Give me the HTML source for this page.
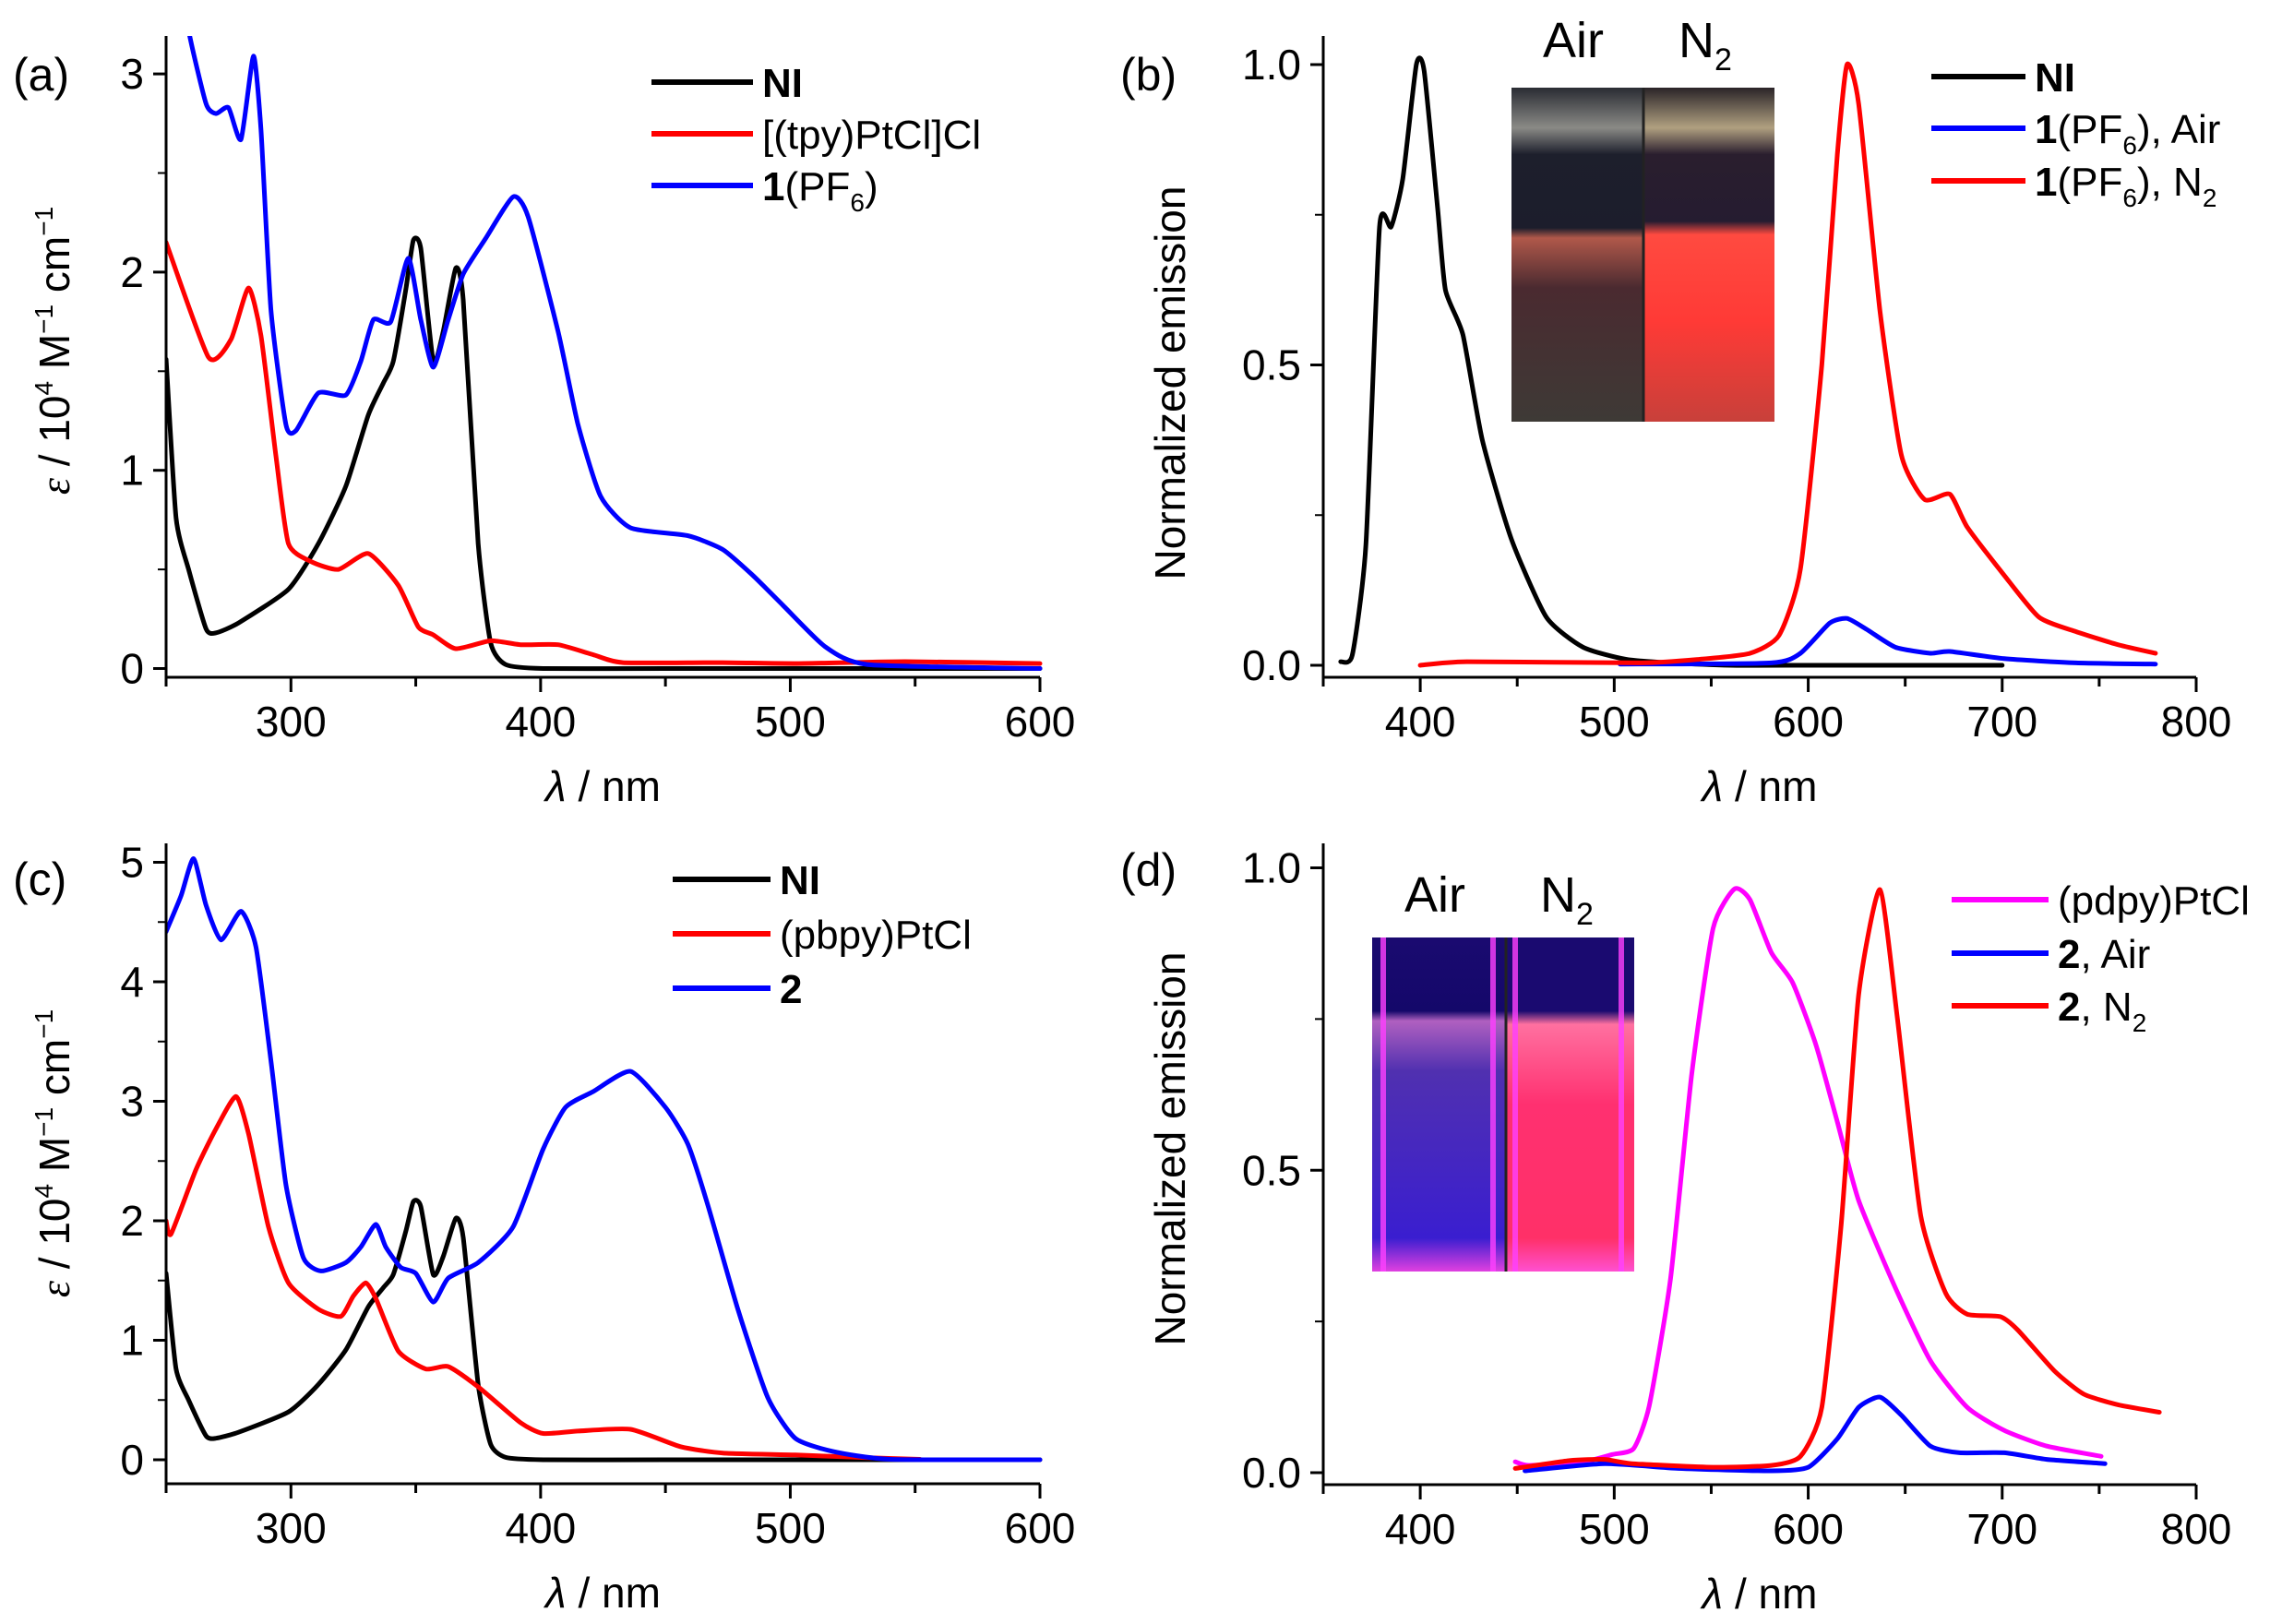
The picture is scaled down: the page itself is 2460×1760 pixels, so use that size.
<!DOCTYPE html>
<html><head><meta charset="utf-8"><style>
html,body{margin:0;padding:0;background:#fff}
svg{display:block;font-family:"Liberation Sans",Arial,sans-serif}
</style></head><body>
<svg id="fig" width="2460" height="1760" viewBox="0 0 2460 1760" xmlns="http://www.w3.org/2000/svg">
<defs>
<linearGradient id="gbAir" x1="0" y1="0" x2="0" y2="1"><stop offset="0" stop-color="#2a2c33"/><stop offset="0.12" stop-color="#8a8a86"/><stop offset="0.2" stop-color="#1d1f2c"/><stop offset="0.42" stop-color="#1c1d2c"/><stop offset="0.45" stop-color="#b0584a"/><stop offset="0.6" stop-color="#4a2a30"/><stop offset="1" stop-color="#3e3a36"/></linearGradient>
<linearGradient id="gbN2" x1="0" y1="0" x2="0" y2="1"><stop offset="0" stop-color="#2a2428"/><stop offset="0.12" stop-color="#b0a080"/><stop offset="0.2" stop-color="#2a1e2e"/><stop offset="0.4" stop-color="#251c30"/><stop offset="0.44" stop-color="#ff4a40"/><stop offset="0.7" stop-color="#ff3a36"/><stop offset="1" stop-color="#c8403a"/></linearGradient>
<linearGradient id="gdAir" x1="0" y1="0" x2="0" y2="1"><stop offset="0" stop-color="#1a0a70"/><stop offset="0.22" stop-color="#14086a"/><stop offset="0.25" stop-color="#b060c0"/><stop offset="0.4" stop-color="#5030b0"/><stop offset="0.9" stop-color="#3a1ed0"/><stop offset="1" stop-color="#e040e0"/></linearGradient>
<linearGradient id="gdN2" x1="0" y1="0" x2="0" y2="1"><stop offset="0" stop-color="#1a0a70"/><stop offset="0.22" stop-color="#1a0a70"/><stop offset="0.26" stop-color="#ff70a0"/><stop offset="0.5" stop-color="#ff3070"/><stop offset="0.9" stop-color="#ff3068"/><stop offset="1" stop-color="#ff50d0"/></linearGradient>
</defs>
<g id="root"></g>
</svg>
<script>
// ---------- data (wavelength nm, value) ----------
const niX=[250,254,259,266,270,279,299,311,322,331,337,341,346,349,352,357,361,366,369,375,380,386,401,450,500,550,600];
const niY=[1.56,0.76,0.5,0.2,0.18,0.23,0.40,0.63,0.92,1.28,1.44,1.55,1.91,2.16,2.12,1.55,1.7,2.02,1.86,0.63,0.13,0.02,0.0,0.0,0.0,0.0,0.0];
const tpyX=[250,267,276,283,288,294,299,308,319,331,343,351,357,366,380,392,407,421,433,473,502,546,600];
const tpyY=[2.15,1.57,1.66,1.92,1.68,1.07,0.63,0.54,0.50,0.58,0.42,0.21,0.17,0.1,0.14,0.12,0.12,0.07,0.03,0.03,0.025,0.035,0.025];
const c1X=[255,259,266,270,275,280,285,288,292,298,302,311,322,328,333,340,347,352,357,363,369,378,389,395,407,415,424,436,459,473,485,497,514,531,600];
const c1Y=[3.6,3.22,2.85,2.8,2.83,2.67,3.09,2.72,1.81,1.23,1.2,1.39,1.38,1.55,1.76,1.75,2.07,1.76,1.52,1.76,1.99,2.17,2.38,2.28,1.70,1.23,0.87,0.71,0.67,0.60,0.47,0.32,0.11,0.02,0.0];
const niEmX=[359,365,372,379,385,391,398,402,409,413,422,432,447,465,484,506,529,560,600,650,700];
const niEmY=[0.006,0.017,0.2,0.73,0.73,0.81,1.0,0.99,0.76,0.625,0.55,0.375,0.21,0.08,0.03,0.01,0.004,0.0,0.0,0.0,0.0];
const n2bX=[400,424,514,544,570,585,596,607,615,620,626,637,648,660,673,682,701,719,738,760,779];
const n2bY=[0.0,0.006,0.004,0.01,0.02,0.05,0.16,0.5,0.85,1.0,0.935,0.59,0.35,0.276,0.285,0.23,0.15,0.08,0.056,0.034,0.02];
const airbX=[503,581,596,611,620,630,645,663,673,701,738,779];
const airbY=[0.002,0.004,0.02,0.07,0.078,0.06,0.03,0.02,0.023,0.011,0.004,0.002];
const pbX=[250,252,262,270,278,283,291,299,311,320,325,330,334,343,354,363,375,392,401,415,436,456,473,502,531,552];
const pbY=[2.0,1.89,2.43,2.77,3.04,2.73,1.95,1.48,1.26,1.2,1.37,1.48,1.35,0.91,0.76,0.78,0.61,0.31,0.22,0.24,0.255,0.11,0.056,0.04,0.017,0.004];
const c2X=[250,256,261,266,272,280,286,292,298,305,312,322,328,334,338,344,350,357,363,375,389,401,410,421,436,450,459,467,479,491,502,517,540,600];
const c2Y=[4.42,4.72,5.03,4.64,4.35,4.59,4.29,3.34,2.3,1.69,1.58,1.65,1.78,1.97,1.78,1.61,1.56,1.32,1.52,1.65,1.95,2.6,2.95,3.08,3.25,2.95,2.64,2.13,1.26,0.52,0.18,0.07,0.004,0.0];
const pdX=[449,456,484,499,510,518,529,540,551,562,570,581,592,604,615,626,645,663,682,701,723,751];
const pdY=[0.018,0.012,0.018,0.03,0.04,0.11,0.32,0.66,0.9,0.965,0.947,0.86,0.81,0.707,0.58,0.45,0.305,0.185,0.108,0.07,0.044,0.027];
const n2dX=[449,477,495,509,551,581,596,607,617,626,637,646,658,671,682,699,708,727,742,760,781];
const n2dY=[0.007,0.02,0.022,0.015,0.009,0.012,0.027,0.108,0.41,0.79,0.964,0.75,0.425,0.296,0.262,0.258,0.236,0.168,0.13,0.112,0.1];
const airdX=[454,495,533,581,600,615,626,637,648,663,678,701,723,753];
const airdY=[0.003,0.015,0.007,0.003,0.009,0.056,0.108,0.125,0.095,0.044,0.033,0.033,0.022,0.015];
const absXTicks=[300,400,500,600];
const emXTicks=[400,500,600,700,800];
const aYTicks=[0,1,2,3];
const cYTicks=[0,1,2,3,4,5];
const emYTicks=["0.0","0.5","1.0"];

const NS="http://www.w3.org/2000/svg";
const root=document.getElementById('root');
function mk(tag,attrs,parent){const e=document.createElementNS(NS,tag);for(const k in attrs)e.setAttribute(k,attrs[k]);(parent||root).appendChild(e);return e;}
function smoothPath(P){
  let d='M'+P[0][0].toFixed(1)+','+P[0][1].toFixed(1);
  const t=0.3;
  for(let i=0;i<P.length-1;i++){
    const p0=P[Math.max(i-1,0)],p1=P[i],p2=P[i+1],p3=P[Math.min(i+2,P.length-1)];
    const c1=[p1[0]+(p2[0]-p0[0])*t/2*0.66,p1[1]+(p2[1]-p0[1])*t/2*0.66];
    const c2=[p2[0]-(p3[0]-p1[0])*t/2*0.66,p2[1]-(p3[1]-p1[1])*t/2*0.66];
    d+=` C${c1[0].toFixed(1)},${c1[1].toFixed(1)} ${c2[0].toFixed(1)},${c2[1].toFixed(1)} ${p2[0].toFixed(1)},${p2[1].toFixed(1)}`;
  }
  return d;
}

function panel(o){
  const g=mk('g',{});
  
  
  const sx=v=>o.x0+(v-o.xmin)/(o.xmax-o.xmin)*(o.x1-o.x0);
  const sy=v=>o.y0-(v-0)*o.ppu;
  const cid='clip'+o.name;
  const cp=mk('clipPath',{id:cid},g);mk('rect',{x:o.x0,y:o.top,width:o.x1-o.x0+4,height:o.axisY-o.top},cp);
  o.series.forEach(s=>{
    const P=s.x.map((v,i)=>[sx(v),sy(s.y[i])]);
    const p=mk('path',{d:smoothPath(P),fill:'none',stroke:s.color,'stroke-width':5,'stroke-linejoin':'round','stroke-linecap':'round','clip-path':'url(#'+cid+')'},g);
    
    
  });
  const ax=mk('path',{d:`M${o.x0},${o.top} V${o.axisY} H${o.x1}`,fill:'none',stroke:'#000','stroke-width':3},g);
  
  
  for(let v=o.xmin;v<=o.xmax+0.1;v+=50){
    const major=o.xticks.indexOf(v)>=0;
    mk('line',{x1:sx(v),x2:sx(v),y1:o.axisY,y2:o.axisY+(major?16:10),stroke:'#000','stroke-width':3},g);
  }
  o.xticks.forEach(v=>{
    const t=mk('text',{x:sx(v),y:o.axisY+64,'text-anchor':'middle','font-size':46},g);t.textContent=v;
    
    
  });
  o.yticks.forEach((lab,i)=>{
    const v=parseFloat(lab);
    mk('line',{x1:o.x0-14,x2:o.x0,y1:sy(v),y2:sy(v),stroke:'#000','stroke-width':3},g);
    if(i<o.yticks.length-1){const vm=v+o.ystep/2;mk('line',{x1:o.x0-9,x2:o.x0,y1:sy(vm),y2:sy(vm),stroke:'#000','stroke-width':2},g);}
    const t=mk('text',{x:o.x0-24,y:sy(v)+16,'text-anchor':'end','font-size':46},g);t.textContent=lab;
    
    
  });
  const xt=mk('text',{x:(o.x0+o.x1)/2,y:o.axisY+134,'text-anchor':'middle','font-size':46},g);
  xt.innerHTML='<tspan font-style="italic">λ</tspan> / nm';
  
  
  const yt=mk('text',{x:0,y:0,'text-anchor':'middle','font-size':46,transform:`translate(${o.ytx},${o.tyc}) rotate(-90)`},g);
  yt.innerHTML=o.ytitle;
  
  
  const pl=mk('text',{x:o.plx,y:o.ply,'font-size':50},g);pl.textContent=o.label;
  
  
  o.legend.forEach((L,i)=>{
    const y=o.ly[i];
    const ln=mk('line',{x1:o.lx0,x2:o.lx1,y1:y,y2:y,stroke:L.color,'stroke-width':6},g);
    
    
    const t=mk('text',{x:o.lx1+10,y:y+16,'font-size':44},g);t.innerHTML=L.html;
    
    
  });
  return g;
}
const epsTitle='<tspan font-family="Liberation Serif" font-style="italic">ε</tspan> / 10<tspan dy="-18" font-size="28">4</tspan><tspan dy="18"> M</tspan><tspan dy="-18" font-size="28">−1</tspan><tspan dy="18"> cm</tspan><tspan dy="-18" font-size="28">−1</tspan>';
const pf6='<tspan font-weight="bold">1</tspan>(PF<tspan dy="12" font-size="28">6</tspan><tspan dy="-12">)</tspan>';

panel({name:'panel-a',label:'(a)',x0:180,x1:1127,xmin:250,xmax:600,y0:724.5,ppu:214.8,axisY:734,top:39,ystep:1,
  xticks:absXTicks,yticks:aYTicks.map(String),ytitle:epsTitle,ytx:75,tyc:380,plx:14,ply:98,
  series:[{id:'ni',x:niX,y:niY,color:'#000'},{id:'tpy',x:tpyX,y:tpyY,color:'#ff0000'},{id:'complex1',x:c1X,y:c1Y,color:'#0000ff'}],
  lx0:706,lx1:816,ly:[89,145,201],
  legend:[{color:'#000',html:'<tspan font-weight="bold">NI</tspan>'},{color:'#ff0000',html:'[(tpy)PtCl]Cl'},{color:'#0000ff',html:pf6}]});

panel({name:'panel-b',label:'(b)',x0:1434,x1:2380,xmin:350,xmax:800,y0:721,ppu:651,axisY:734,top:39,ystep:0.5,
  xticks:emXTicks,yticks:emYTicks,ytitle:'Normalized emission',ytx:1284,tyc:415,plx:1214,ply:98,
  series:[{id:'ni-em',x:niEmX,y:niEmY,color:'#000'},{id:'complex1-air',x:airbX,y:airbY,color:'#0000ff'},{id:'complex1-n2',x:n2bX,y:n2bY,color:'#ff0000'}],
  lx0:2093,lx1:2195,ly:[83,139,196],
  legend:[{color:'#000',html:'<tspan font-weight="bold">NI</tspan>'},{color:'#0000ff',html:pf6+', Air'},{color:'#ff0000',html:pf6+', N<tspan dy="12" font-size="28">2</tspan>'}]});

panel({name:'panel-c',label:'(c)',x0:180,x1:1127,xmin:250,xmax:600,y0:1582,ppu:129.5,axisY:1608,top:914,ystep:1,
  xticks:absXTicks,yticks:cYTicks.map(String),ytitle:epsTitle,ytx:75,tyc:1250,plx:14,ply:970,
  series:[{id:'ni',x:niX,y:niY,color:'#000'},{id:'pbpy',x:pbX,y:pbY,color:'#ff0000'},{id:'complex2',x:c2X,y:c2Y,color:'#0000ff'}],
  lx0:729,lx1:835,ly:[953,1012,1071],
  legend:[{color:'#000',html:'<tspan font-weight="bold">NI</tspan>'},{color:'#ff0000',html:'(pbpy)PtCl'},{color:'#0000ff',html:'<tspan font-weight="bold">2</tspan>'}]});

panel({name:'panel-d',label:'(d)',x0:1434,x1:2380,xmin:350,xmax:800,y0:1596,ppu:655.5,axisY:1609,top:914,ystep:0.5,
  xticks:emXTicks,yticks:emYTicks,ytitle:'Normalized emission',ytx:1284,tyc:1245,plx:1214,ply:960,
  series:[{id:'pdpy',x:pdX,y:pdY,color:'#ff00ff'},{id:'complex2-air',x:airdX,y:airdY,color:'#0000ff'},{id:'complex2-n2',x:n2dX,y:n2dY,color:'#ff0000'}],
  lx0:2115,lx1:2220,ly:[975,1033,1090],
  legend:[{color:'#ff00ff',html:'(pdpy)PtCl'},{color:'#0000ff',html:'<tspan font-weight="bold">2</tspan>, Air'},{color:'#ff0000',html:'<tspan font-weight="bold">2</tspan>, N<tspan dy="12" font-size="28">2</tspan>'}]});

function inset(name,x,y,w,h,split,gl,gr,ty,cAir,cN2,edge){
  const g=mk('g',{});
  
  
  mk('rect',{x:x,y:y,width:split-x,height:h,fill:'url(#'+gl+')'},g);
  mk('rect',{x:split,y:y,width:x+w-split,height:h,fill:'url(#'+gr+')'},g);
  mk('line',{x1:split,x2:split,y1:y,y2:y+h,stroke:'#222','stroke-width':3},g);
  if(edge){[x+12,split-14,split+10,x+w-14].forEach(ex=>mk('line',{x1:ex,x2:ex,y1:y,y2:y+h,stroke:edge,'stroke-width':6,opacity:0.8},g));}
  const a=mk('text',{x:cAir,y:ty,'text-anchor':'middle','font-size':54},g);a.textContent='Air';
  
  
  const n=mk('text',{x:cN2,y:ty,'text-anchor':'middle','font-size':54},g);n.innerHTML='N<tspan dy="14" font-size="34">2</tspan>';
  
  
}
inset('inset-photo-b',1638,95,285,362,1781,'gbAir','gbN2',62,1705,1848,null);
inset('inset-photo-d',1487,1016,284,362,1632,'gdAir','gdN2',988,1555,1698,'#ff40ff');
</script>
</body></html>
